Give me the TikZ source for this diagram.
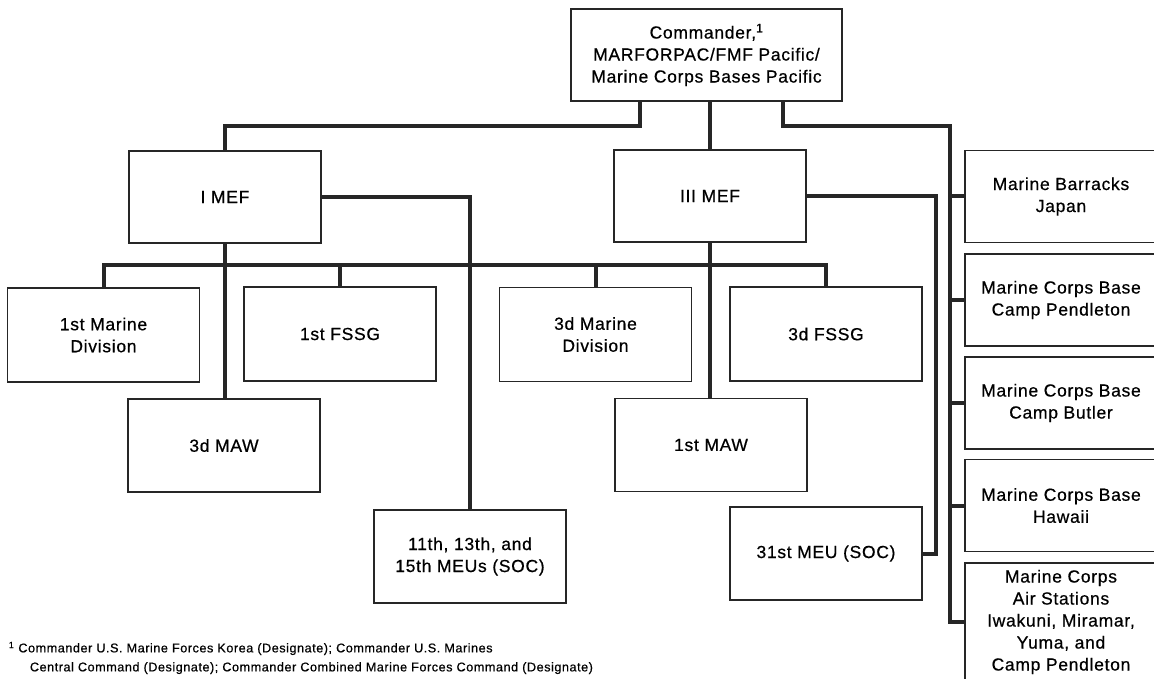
\documentclass[tikz,border=0pt]{standalone}
\usepackage{fontspec}
\setmainfont{Liberation Sans}
\newfontfamily\orgfont{Liberation Sans}[LetterSpace=4, FakeBold=0.6]
\usepackage{tikz}
\tikzset{
every picture/.style={
line width=1.8pt
}}

\begin{document}
\begin{tikzpicture}[x=1pt, y=-1pt,
unit/.style = {rectangle, draw=black!85, line width=1.8pt, minimum width=192pt, minimum height=92pt, align=center, inner sep=2pt, font=\orgfont\fontsize{17.5}{22}\selectfont},
link/.style = {draw=black!85, line width=4pt}]

\useasboundingbox (0,0) rectangle (1154,679);

\node [unit, minimum width=271pt] (cmd) at (706.5,55) {Commander,\textsuperscript{1}\\MARFORPAC/FMF Pacific/\\Marine Corps Bases Pacific};

\node [unit] (imef) at (225,197) {I MEF};
\node [unit] (iiimef) at (710,196) {III MEF};

\node [unit, minimum height=94pt] (mardiv1) at (103.5,335) {1st Marine\\Division};
\node [unit, minimum height=94pt] (fssg1) at (340,334) {1st FSSG};
\node [unit, minimum height=94pt] (mardiv3) at (595.5,334.5) {3d Marine\\Division};
\node [unit, minimum height=94pt] (fssg3) at (826,334) {3d FSSG};
\node [unit, minimum height=93pt] (maw3) at (224,445.5) {3d MAW};
\node [unit, minimum height=93pt] (maw1) at (711,445) {1st MAW};
\node [unit, minimum height=93pt] (meus) at (470,556.5) {11th, 13th, and\\15th MEUs (SOC)};
\node [unit, minimum height=93pt] (meu31) at (826,553.5) {31st MEU (SOC)};

% bases, right column
\node [unit] (mbj) at (1061,196.5) {Marine Barracks\\Japan};
\node [unit] (mcbcp) at (1061,300) {Marine Corps Base\\Camp Pendleton};
\node [unit] (mcbcb) at (1061,403) {Marine Corps Base\\Camp Butler};
\node [unit] (mcbh) at (1061,505.5) {Marine Corps Base\\Hawaii};
\node [unit, minimum height=118pt] (mcas) at (1061,622) {Marine Corps\\Air Stations\\Iwakuni, Miramar,\\Yuma, and\\Camp Pendleton};

\node [anchor=north west, inner sep=0pt, align=left, font=\orgfont\fontsize{12.7}{19}\selectfont] (note) at (8,641) {\textsuperscript{1} Commander U.S. Marine Forces Korea (Designate); Commander U.S. Marines\\\hspace*{21pt}Central Command (Designate); Commander Combined Marine Forces Command (Designate)};

\draw [link] ([xshift=-67pt]cmd.south) -- ++(0,24) -| (imef.north);
\draw [link] (cmd.south -| iiimef.north) -- (iiimef.north);
\coordinate (spine) at (950,624);
\draw [link] ([xshift=76pt]cmd.south) -- ++(0,24) -| (spine);
\foreach \base in {mbj,mcbcp,mcbcb,mcbh,mcas}
  \draw [link] (spine |- \base.west) -- (\base.west);

\draw [link] (imef.east) -| (meus.north);
\draw [link] (iiimef.east) -- ++(129,0) |- (meu31.east);
\draw [link] (imef.south) -- (imef.south |- maw3.north);
\draw [link] (iiimef.south) -- (iiimef.south |- maw1.north);

\coordinate (bus) at (0,265);
\draw [link] (mardiv1.north) |- (bus -| fssg3.north) -- (fssg3.north);
\foreach \unitname in {fssg1,mardiv3}
  \draw [link] (\unitname.north) -- (\unitname.north |- bus);
% \draw [link] (imef.south) -- (bus -| imef.south);

\end{tikzpicture}
\end{document}
